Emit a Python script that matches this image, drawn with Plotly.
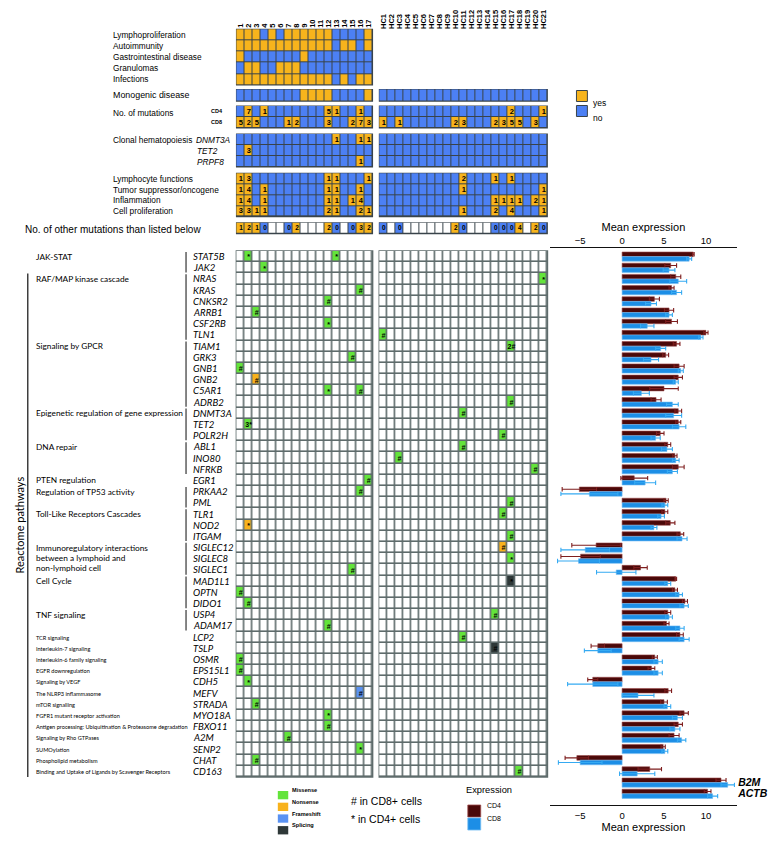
import plotly.graph_objects as go

W, H = 768, 843

# ---------------- data ----------------
patients = [str(i) for i in range(1, 18)]
controls = ["HC%d" % i for i in range(1, 22)]

clinical_labels = ["Lymphoproliferation", "Autoimmunity", "Gastrointestinal disease", "Granulomas", "Infections"]
lymphoproliferation = [1, 1, 1, 0, 1, 0, 1, 1, 1, 1, 1, 1, 0, 0, 0, 0, 1]
autoimmunity = [1, 1, 1, 1, 1, 1, 1, 1, 1, 1, 1, 1, 0, 1, 1, 0, 1]
gastrointestinal = [1, 0, 0, 0, 0, 0, 0, 0, 1, 0, 0, 0, 0, 0, 0, 0, 0]
granulomas = [0, 1, 1, 0, 0, 1, 1, 1, 0, 0, 0, 0, 0, 0, 0, 0, 0]
infections = [1, 1, 1, 1, 1, 1, 1, 1, 1, 1, 1, 1, 0, 1, 0, 1, 1]

monogenic_pat = [0, 0, 0, 0, 0, 0, 0, 0, 1, 1, 1, 1, 0, 0, 0, 0, 1]
monogenic_hc = [0] * 21

mut_cd4_pat = [0, 7, 0, 1, 0, 0, 0, 0, 0, 0, 0, 5, 1, 0, 0, 1, 0]
mut_cd8_pat = [5, 2, 5, 0, 0, 0, 1, 2, 0, 0, 0, 3, 0, 0, 2, 7, 3]
mut_cd4_hc = [0, 0, 0, 0, 0, 0, 0, 0, 0, 0, 0, 0, 0, 0, 0, 0, 2, 0, 0, 0, 1]
mut_cd8_hc = [1, 0, 1, 0, 0, 0, 0, 0, 0, 2, 3, 0, 0, 0, 2, 3, 5, 5, 0, 3, 0]

ch_genes = ["DNMT3A", "TET2", "PRPF8"]
ch_dnmt3a_pat = [0, 0, 0, 0, 0, 0, 0, 0, 0, 0, 0, 0, 1, 0, 0, 1, 1]
ch_tet2_pat = [0, 3, 0, 0, 0, 0, 0, 0, 0, 0, 0, 0, 0, 0, 0, 0, 0]
ch_prpf8_pat = [0, 0, 0, 0, 0, 0, 0, 0, 0, 0, 0, 0, 0, 0, 0, 1, 0]
ch_dnmt3a_hc = [0] * 21
ch_tet2_hc = [0] * 21
ch_prpf8_hc = [0] * 21

function_labels = ["Lymphocyte functions", "Tumor suppressor/oncogene", "Inflammation", "Cell proliferation"]
lymph_fx_pat = [1, 3, 0, 0, 0, 0, 0, 0, 0, 0, 0, 1, 1, 0, 0, 0, 1]
tumor_pat = [1, 4, 0, 1, 0, 0, 0, 0, 0, 0, 0, 1, 1, 0, 0, 1, 0]
inflam_pat = [1, 4, 0, 1, 0, 0, 0, 0, 0, 0, 0, 1, 1, 0, 1, 4, 0]
prolif_pat = [3, 3, 1, 1, 0, 0, 0, 0, 0, 0, 0, 2, 1, 0, 0, 2, 1]
lymph_fx_hc = [0, 0, 0, 0, 0, 0, 0, 0, 0, 0, 2, 0, 0, 0, 1, 0, 1, 0, 0, 0, 0]
tumor_hc = [0, 0, 0, 0, 0, 0, 0, 0, 0, 0, 1, 0, 0, 0, 0, 0, 0, 0, 0, 0, 1]
inflam_hc = [0, 0, 0, 0, 0, 0, 0, 0, 0, 0, 0, 0, 0, 0, 1, 1, 1, 1, 0, 2, 1]
prolif_hc = [0, 0, 0, 0, 0, 0, 0, 0, 0, 0, 1, 0, 0, 0, 2, 0, 4, 0, 0, 0, 1]

other_pat = [1, 2, 1, 0, None, None, 0, 2, None, None, None, 2, 0, None, 0, 3, 2]
other_hc = [0, None, 0, None, None, None, None, None, None, 2, 0, None, None, None, 0, 0, 0, 4, None, 2, 0]

genes = ["STAT5B", "JAK2", "NRAS", "KRAS", "CNKSR2", "ARRB1", "CSF2RB", "TLN1", "TIAM1", "GRK3",
         "GNB1", "GNB2", "C5AR1", "ADRB2", "DNMT3A", "TET2", "POLR2H", "ABL1", "INO80", "NFRKB",
         "EGR1", "PRKAA2", "PML", "TLR1", "NOD2", "ITGAM", "SIGLEC12", "SIGLEC8", "SIGLEC1", "MAD1L1",
         "OPTN", "DIDO1", "USP4", "ADAM17", "LCP2", "TSLP", "OSMR", "EPS15L1", "CDH5", "MEFV",
         "STRADA", "MYO18A", "FBXO11", "A2M", "SENP2", "CHAT", "CD163"]

pathway_names = ["JAK-STAT", "RAF/MAP kinase cascade", "Signaling by GPCR",
                 "Epigenetic regulation of gene expression", "DNA repair", "PTEN regulation",
                 "Regulation of TP53 activity", "Toll-Like Receptors Cascades",
                 "Immunoregulatory interactions<br>between a lymphoid and<br>non-lymphoid cell",
                 "Cell Cycle", "TNF signaling", "TCR signaling", "Interleukin-7 signaling",
                 "Interleukin-6 family signaling", "EGFR downregulation", "Signaling by VEGF",
                 "The NLRP3 inflammasome", "mTOR signalling", "FGFR1 mutant receptor activation",
                 "Antigen processing: Ubiquitination & Proteasome degradation",
                 "Signaling by Rho GTPases", "SUMOylation", "Phospholipid metabolism",
                 "Binding and Uptake of Ligands by Scavenger Receptors"]
pathway_sizes = [2, 6, 6, 3, 3, 1, 2, 3, 3, 3, 2, 1, 1, 1, 1, 1, 1, 1, 1, 1, 1, 1, 1, 1]

mutation_types = ["Missense", "Nonsense", "Frameshift", "Splicing"]
# (gene, cohort, column label, type, mark)
mutations = [
    ("STAT5B", "P", "2", "Missense", "*"), ("STAT5B", "P", "13", "Missense", "*"),
    ("JAK2", "P", "4", "Missense", "*"), ("KRAS", "P", "16", "Missense", "#"),
    ("CNKSR2", "P", "12", "Missense", "#"), ("ARRB1", "P", "3", "Missense", "#"),
    ("CSF2RB", "P", "12", "Missense", "*"), ("GRK3", "P", "15", "Missense", "#"),
    ("GNB1", "P", "1", "Missense", "#"), ("GNB2", "P", "3", "Nonsense", "#"),
    ("C5AR1", "P", "12", "Missense", "*"), ("C5AR1", "P", "16", "Missense", "#"),
    ("TET2", "P", "2", "Missense", "3*"), ("EGR1", "P", "17", "Missense", "#"),
    ("PRKAA2", "P", "16", "Missense", "#"), ("NOD2", "P", "2", "Nonsense", "*"),
    ("SIGLEC1", "P", "15", "Missense", "#"), ("OPTN", "P", "1", "Missense", "#"),
    ("DIDO1", "P", "2", "Missense", "#"), ("ADAM17", "P", "12", "Missense", "#"),
    ("OSMR", "P", "1", "Missense", "#"), ("EPS15L1", "P", "1", "Missense", "#"),
    ("CDH5", "P", "2", "Missense", "*"), ("MEFV", "P", "16", "Frameshift", "#"),
    ("STRADA", "P", "3", "Missense", "#"), ("MYO18A", "P", "12", "Missense", "*"),
    ("FBXO11", "P", "12", "Missense", "#"), ("A2M", "P", "7", "Missense", "#"),
    ("SENP2", "P", "16", "Missense", "*"), ("CHAT", "P", "3", "Missense", "#"),
    ("NRAS", "HC", "HC21", "Missense", "*"), ("TLN1", "HC", "HC1", "Missense", "#"),
    ("TIAM1", "HC", "HC17", "Missense", "2#"), ("ADRB2", "HC", "HC17", "Missense", "#"),
    ("DNMT3A", "HC", "HC11", "Missense", "#"), ("POLR2H", "HC", "HC16", "Missense", "#"),
    ("ABL1", "HC", "HC11", "Missense", "#"), ("INO80", "HC", "HC3", "Missense", "#"),
    ("NFRKB", "HC", "HC20", "Missense", "#"), ("PML", "HC", "HC17", "Missense", "#"),
    ("TLR1", "HC", "HC16", "Missense", "#"), ("ITGAM", "HC", "HC17", "Missense", "#"),
    ("SIGLEC12", "HC", "HC16", "Nonsense", "#"), ("SIGLEC8", "HC", "HC17", "Missense", "*"),
    ("MAD1L1", "HC", "HC17", "Splicing", "*"), ("USP4", "HC", "HC15", "Missense", "#"),
    ("LCP2", "HC", "HC11", "Missense", "#"), ("TSLP", "HC", "HC15", "Splicing", "#"),
    ("CD163", "HC", "HC18", "Missense", "#"),
]

bar_genes = genes + ["B2M", "ACTB"]
cd4_mean = [8.5, 5.8, 6.4, 5.9, 3.85, 5.6, 5.9, 10.0, 6.5, 5.2,
            6.8, 6.7, 5.0, 4.05, 6.7, 6.7, 4.55, 5.45, 6.3, 6.7,
            1.45, -5.1, 5.25, 5.1, 5.75, 6.95, -3.1, -4.95, 2.2, 6.4,
            6.3, 7.5, 5.45, 5.3, 6.9, -2.9, 3.9, 3.5, -3.5, 5.5,
            5.0, 7.4, 6.7, 6.2, 4.9, -5.4, 3.3, 11.8, 10.2]
cd4_err = [0.1, 0.7, 0.6, 0.3, 0.6, 0.55, 0.7, 0.25, 0.4, 0.35,
           0.6, 0.5, 1.7, 0.6, 0.4, 0.3, 0.45, 0.35, 0.25, 0.7,
           1.6, 2.05, 0.25, 0.35, 0.55, 0.4, 2.9, 2.35, 0.8, 0.1,
           0.3, 0.3, 0.35, 0.3, 0.4, 0.8, 0.3, 0.4, 0.6, 0.4,
           0.4, 0.5, 0.5, 0.6, 0.25, 1.4, 1.4, 0.6, 0.4]
cd8_mean = [8.0, 5.6, 6.7, 6.5, 3.45, 5.6, 3.0, 9.4, 4.6, 3.45,
            7.0, 6.4, 2.3, 6.0, 6.15, 6.8, 4.0, 5.35, 6.4, 6.0,
            2.75, -3.9, 5.1, 4.65, 3.8, 7.15, -4.4, -5.2, -0.7, 5.45,
            6.8, 7.4, 5.6, 6.9, 7.4, -2.9, 4.3, 4.3, -3.5, 1.9,
            5.4, 6.6, 6.3, 7.1, 5.1, -5.0, 1.8, 12.6, 10.8]
cd8_err = [0.3, 0.7, 1.0, 0.6, 0.65, 0.4, 0.8, 0.25, 0.6, 0.9,
           0.3, 0.3, 0.95, 0.7, 0.95, 0.8, 0.55, 0.65, 0.4, 0.6,
           1.25, 3.4, 0.35, 0.4, 0.35, 0.6, 2.9, 2.5, 2.35, 0.35,
           0.4, 0.5, 0.4, 0.5, 0.6, 1.6, 0.5, 0.5, 3.0, 1.9,
           0.4, 0.6, 0.6, 0.5, 0.35, 2.6, 2.1, 0.8, 0.6]
bar_ticks = [-5, 0, 5, 10]

# ---------------- style ----------------
YES = "#F7B41C"
NO = "#4C80F4"
WHITE = "#FFFFFF"
TYPE_COLORS = {"Missense": "#63E43B", "Nonsense": "#F8B21C", "Frameshift": "#5A92F2", "Splicing": "#2E3838"}
CD4_COL = "#4A0808"
CD8_COL = "#1C8EE6"
CLIN_BORDER = "#39434A"
MUT_BORDER = "#5E6B6B"
SANS = "Liberation Sans"
CAL = "Lato"

fig = go.Figure()
layout = {}
shapes = []
annotations = []
n_axes = [0]


def xp(p):
    return p / W


def yp(p):
    return 1 - p / H


def add_axes(x0, x1, y0, y1, xr, yr):
    n_axes[0] += 1
    k = n_axes[0]
    s = "" if k == 1 else str(k)
    layout["xaxis" + s] = dict(domain=[xp(x0), xp(x1)], range=xr, visible=False, fixedrange=True,
                               anchor="y" + s, showgrid=False, zeroline=False)
    layout["yaxis" + s] = dict(domain=[yp(y1), yp(y0)], range=yr, visible=False, fixedrange=True,
                               anchor="x" + s, showgrid=False, zeroline=False)
    return "x" + s, "y" + s, s


def add_grid(z, text, x0, x1, y0, y1, colorscale, zmax, gap, border, fsize=7.5):
    nr, nc = len(z), len(z[0])
    cw = (x1 - x0) / nc
    rh = (y1 - y0) / nr
    pxx, pyy = gap / 2 / cw, gap / 2 / rh
    xa, ya, s = add_axes(x0 - gap / 2, x1 + gap / 2, y0 - gap / 2, y1 + gap / 2,
                         [-0.5 - pxx, nc - 0.5 + pxx], [nr - 0.5 + pyy, -0.5 - pyy])
    shapes.append(dict(type="rect", xref=xa + " domain", yref=ya + " domain", x0=0, x1=1, y0=0, y1=1,
                       fillcolor=border, line=dict(width=0), layer="below"))
    fig.add_trace(go.Heatmap(z=z, x=list(range(nc)), y=list(range(nr)), text=text, texttemplate="%{text}",
                             textfont=dict(size=fsize, color="black", family=SANS, weight="bold"),
                             colorscale=colorscale, zmin=0, zmax=zmax, showscale=False,
                             xgap=gap, ygap=gap, hoverinfo="skip", xaxis=xa, yaxis=ya))
    return xa, ya, s


YN_SCALE = [[0, NO], [0.5, YES], [1, WHITE]]


def count_rows(rows):
    z = [[1 if v else 0 for v in r] for r in rows]
    t = [[str(v) if v else "" for v in r] for r in rows]
    return z, t


def other_row(r):
    z = [[2 if v is None else (1 if v > 0 else 0) for v in r]]
    t = [["" if v is None else str(v) for v in r]]
    return z, t


PX0, PX1 = 238.3, 375.5
HX0, HX1 = 382.3, 551.7
blocks = {"A": (29.3, 85.0), "B": (89.5, 101.2), "C": (106.0, 128.0), "D": (134.0, 167.0),
          "E": (173.3, 216.7), "F": (222.7, 233.7), "G": (251.0, 777.0)}

# clinical (patients only)
zA = [lymphoproliferation, autoimmunity, gastrointestinal, granulomas, infections]
tA = [[""] * 17 for _ in zA]
xA, yA, sA = add_grid(zA, tA, PX0, PX1, *blocks["A"], YN_SCALE, 2, 1.0, CLIN_BORDER)
layout["xaxis" + sA].update(visible=True, side="top", tickmode="array", tickvals=list(range(17)),
                            ticktext=patients, tickangle=-90, ticks="", showline=False,
                            tickfont=dict(size=7.5, family=SANS, weight="bold", color="black"))
for i, lab in enumerate(clinical_labels):
    annotations.append(dict(text=lab, xref="paper", x=xp(111.5), xanchor="left", yref=yA, y=i,
                            showarrow=False, font=dict(size=8.3, family=SANS, color="black")))

# monogenic
zB, tB = count_rows([monogenic_pat])
tB = [[""] * 17]
xB, yB, sB = add_grid(zB, tB, PX0, PX1, *blocks["B"], YN_SCALE, 2, 1.0, CLIN_BORDER)
zBh, _ = count_rows([monogenic_hc])
xBh, yBh, sBh = add_grid(zBh, [[""] * 21], HX0, HX1, *blocks["B"], YN_SCALE, 2, 1.0, CLIN_BORDER)
layout["xaxis" + sBh].update(visible=True, side="top", anchor="free", position=yp(29.0),
                             tickmode="array", tickvals=list(range(21)), ticktext=controls,
                             tickangle=-90, ticks="", showline=False,
                             tickfont=dict(size=7.5, family=SANS, weight="bold", color="black"))
annotations.append(dict(text="Monogenic disease", xref="paper", x=xp(111.5), xanchor="left", yref=yB, y=0,
                        showarrow=False, font=dict(size=8.9, family=SANS, color="black")))

# number of mutations
zC, tC = count_rows([mut_cd4_pat, mut_cd8_pat])
xC, yC, sC = add_grid(zC, tC, PX0, PX1, *blocks["C"], YN_SCALE, 2, 1.0, CLIN_BORDER)
zCh, tCh = count_rows([mut_cd4_hc, mut_cd8_hc])
add_grid(zCh, tCh, HX0, HX1, *blocks["C"], YN_SCALE, 2, 1.0, CLIN_BORDER)
annotations.append(dict(text="No. of mutations", xref="paper", x=xp(111.5), xanchor="left", yref=yC, y=0.1,
                        showarrow=False, font=dict(size=8.3, family=SANS, color="black")))
for i, lab in enumerate(["CD4", "CD8"]):
    annotations.append(dict(text=lab, xref="paper", x=xp(211), xanchor="left", yref=yC, y=i,
                            showarrow=False, font=dict(size=5.5, family=SANS, color="black", weight="bold")))

# clonal hematopoiesis
zD, tD = count_rows([ch_dnmt3a_pat, ch_tet2_pat, ch_prpf8_pat])
xD, yD, sD = add_grid(zD, tD, PX0, PX1, *blocks["D"], YN_SCALE, 2, 1.0, CLIN_BORDER)
zDh, tDh = count_rows([ch_dnmt3a_hc, ch_tet2_hc, ch_prpf8_hc])
add_grid(zDh, tDh, HX0, HX1, *blocks["D"], YN_SCALE, 2, 1.0, CLIN_BORDER)
annotations.append(dict(text="Clonal hematopoiesis", xref="paper", x=xp(111.5), xanchor="left", yref=yD, y=0,
                        showarrow=False, font=dict(size=8.3, family=SANS, color="black")))
for i, g in enumerate(ch_genes):
    annotations.append(dict(text=g, xref="paper", x=xp(195.5 if i == 0 else 196.5), xanchor="left", yref=yD, y=i,
                            showarrow=False, font=dict(size=8.3, family=SANS, color="black", style="italic")))

# functional categories
zE, tE = count_rows([lymph_fx_pat, tumor_pat, inflam_pat, prolif_pat])
xE, yE, sE = add_grid(zE, tE, PX0, PX1, *blocks["E"], YN_SCALE, 2, 1.0, CLIN_BORDER)
zEh, tEh = count_rows([lymph_fx_hc, tumor_hc, inflam_hc, prolif_hc])
add_grid(zEh, tEh, HX0, HX1, *blocks["E"], YN_SCALE, 2, 1.0, CLIN_BORDER)
for i, lab in enumerate(function_labels):
    annotations.append(dict(text=lab, xref="paper", x=xp(111.5), xanchor="left", yref=yE, y=i,
                            showarrow=False, font=dict(size=8.3, family=SANS, color="black")))

# other mutations
zF, tF = other_row(other_pat)
xF, yF, sF = add_grid(zF, tF, PX0, PX1, *blocks["F"], YN_SCALE, 2, 1.0, CLIN_BORDER, fsize=6.5)
zFh, tFh = other_row(other_hc)
add_grid(zFh, tFh, HX0, HX1, *blocks["F"], YN_SCALE, 2, 1.0, CLIN_BORDER, fsize=6.5)
annotations.append(dict(text="No. of other mutations than listed below", xref="paper", x=xp(205),
                        xanchor="right", yref=yF, y=0.1, showarrow=False,
                        font=dict(size=10, family=SANS, color="black")))

# mutation grids
type_code = {t: i + 1 for i, t in enumerate(mutation_types)}
MUT_SCALE = [[0, WHITE], [0.25, TYPE_COLORS["Missense"]], [0.5, TYPE_COLORS["Nonsense"]],
             [0.75, TYPE_COLORS["Frameshift"]], [1, TYPE_COLORS["Splicing"]]]


def mut_matrix(cohort, cols):
    z = [[0] * len(cols) for _ in genes]
    t = [[""] * len(cols) for _ in genes]
    for g, c, col, typ, mark in mutations:
        if c == cohort:
            r, k = genes.index(g), cols.index(col)
            z[r][k] = type_code[typ]
            t[r][k] = mark
    return z, t


zG, tG = mut_matrix("P", patients)
xG, yG, sG = add_grid(zG, tG, PX0, PX1, *blocks["G"], MUT_SCALE, 4, 1.6, MUT_BORDER, fsize=7)
zGh, tGh = mut_matrix("HC", controls)
add_grid(zGh, tGh, HX0, HX1, *blocks["G"], MUT_SCALE, 4, 1.6, MUT_BORDER, fsize=7)

for i, g in enumerate(genes):
    annotations.append(dict(text=g, xref="paper", x=xp(192.0), xanchor="left", yref=yG, y=i,
                            showarrow=False, font=dict(size=9.6, family=CAL, color="black", style="italic")))

start = 0
for k, (name, size) in enumerate(zip(pathway_names, pathway_sizes)):
    small = k >= 11
    lines = name.split("<br>")
    for j, ln in enumerate(lines):
        annotations.append(dict(text=ln, xref="paper", x=xp(34), xanchor="left", yref=yG, y=start + j * 0.9,
                                showarrow=False,
                                font=dict(size=5.6 if small else 8.3, family=CAL, color="black")))
    if size > 1:
        shapes.append(dict(type="line", xref="paper", yref=yG, x0=xp(187.5), x1=xp(187.5),
                           y0=start - 0.42, y1=start + size - 1 + 0.42,
                           line=dict(color="#444444", width=1.3)))
    start += size

shapes.append(dict(type="line", xref="paper", yref=yG, x0=xp(28), x1=xp(28), y0=2 - 0.5, y1=len(genes) - 0.5,
                   line=dict(color="#222222", width=1.3)))
annotations.append(dict(text="Reactome pathways", xref="paper", x=xp(11), yref=yG, y=(len(genes) - 1) / 2 + 1,
                        textangle=-90, showarrow=False, font=dict(size=11, family=CAL, color="black")))

# ---------------- bar chart ----------------
ROW = (blocks["G"][1] - blocks["G"][0]) / len(genes)
rows = list(range(len(bar_genes)))
BY0, BY1 = 248.0, 804.5
yr = [len(bar_genes) - 0.5 + (BY1 - (blocks["G"][0] + len(bar_genes) * ROW)) / ROW,
      -0.5 - (blocks["G"][0] - BY0) / ROW]
xR, yR, sR = add_axes(554, 743, BY0, BY1, [-8.64, 13.73], yr)
axis_style = dict(visible=True, showline=True, linecolor="#111111", linewidth=1.3, ticks="",
                  tickvals=bar_ticks, showgrid=False, zeroline=False,
                  tickfont=dict(size=9.5, family=SANS, color="black"))
layout["xaxis" + sR].update(side="top", ticklabelstandoff=-1,
                            title=dict(text="Mean expression", standoff=1,
                                       font=dict(size=11, family=SANS, color="black")),
                            **axis_style)
layout["yaxis" + sR].update(visible=True, side="right", showline=False, ticks="", tickmode="array",
                            tickvals=rows[-2:], ticktext=bar_genes[-2:],
                            tickfont=dict(size=10.5, family=SANS, color="black", style="italic", weight="bold"))
kb = n_axes[0] + 1
layout["xaxis%d" % kb] = dict(domain=[xp(554), xp(743)], range=[-8.64, 13.73], overlaying=xR, anchor=yR,
                              side="bottom", fixedrange=True, ticklabelstandoff=2,
                              title=dict(text="Mean expression", standoff=0,
                                         font=dict(size=11, family=SANS, color="black")),
                              **axis_style)
fig.add_trace(go.Scatter(x=[None], y=[None], xaxis="x%d" % kb, yaxis=yR, showlegend=False, hoverinfo="skip"))

fig.add_trace(go.Bar(y=rows, x=cd4_mean, orientation="h", name="CD4", xaxis=xR, yaxis=yR,
                     marker=dict(color=CD4_COL, line=dict(color="#9C4A4A", width=0.6)),
                     error_x=dict(type="data", array=cd4_err, color="#7E1E1E", thickness=1.1, width=2.2),
                     showlegend=False, hoverinfo="skip"))
fig.add_trace(go.Bar(y=rows, x=cd8_mean, orientation="h", name="CD8", xaxis=xR, yaxis=yR,
                     marker=dict(color=CD8_COL, line=dict(color="#72BCF2", width=0.6)),
                     error_x=dict(type="data", array=cd8_err, color="#35AAF2", thickness=1.1, width=2.2),
                     showlegend=False, hoverinfo="skip"))

# ---------------- legends ----------------
yn_labels = ["yes", "no"]
for i, (lab, col) in enumerate(zip(yn_labels, [YES, NO])):
    y0 = 90.5 + i * 15
    shapes.append(dict(type="rect", xref="paper", yref="paper", x0=xp(581), x1=xp(592), y0=yp(y0 + 11), y1=yp(y0),
                       fillcolor=col, line=dict(color=CLIN_BORDER, width=1)))
    annotations.append(dict(text=lab, xref="paper", yref="paper", x=xp(596), y=yp(y0 + 5.5), xanchor="left",
                            showarrow=False, font=dict(size=8.5, family=SANS, color="black")))

for i, t in enumerate(mutation_types):
    y0 = 791 + i * 11.7
    shapes.append(dict(type="rect", xref="paper", yref="paper", x0=xp(280), x1=xp(290.5), y0=yp(y0 + 8.3), y1=yp(y0),
                       fillcolor=TYPE_COLORS[t], line=dict(width=0)))
    annotations.append(dict(text=t, xref="paper", yref="paper", x=xp(292), y=yp(y0 + 4.2), xanchor="left",
                            showarrow=False, font=dict(size=5.6, family=SANS, color="black", weight="bold")))

annotations.append(dict(text="# in CD8+ cells", xref="paper", yref="paper", x=xp(351.5), y=yp(808.5),
                        xanchor="left", showarrow=False, font=dict(size=10.5, family=SANS, color="black")))
annotations.append(dict(text="* in CD4+ cells", xref="paper", yref="paper", x=xp(351.5), y=yp(826.5),
                        xanchor="left", showarrow=False, font=dict(size=10.5, family=SANS, color="black")))

annotations.append(dict(text="Expression", xref="paper", yref="paper", x=xp(467.5), y=yp(797),
                        xanchor="left", showarrow=False, font=dict(size=9.3, family=SANS, color="black")))
for i, (lab, col, lc) in enumerate(zip(["CD4", "CD8"], [CD4_COL, CD8_COL], ["#9C4A4A", "#72BCF2"])):
    y0 = 805 + i * 13
    shapes.append(dict(type="rect", xref="paper", yref="paper", x0=xp(471.5), x1=xp(484.5), y0=yp(y0 + 12), y1=yp(y0),
                       fillcolor=col, line=dict(color=lc, width=0.8)))
    annotations.append(dict(text=lab, xref="paper", yref="paper", x=xp(488.5), y=yp(y0 + 6), xanchor="left",
                            showarrow=False, font=dict(size=7, family=SANS, color="black")))

fig.update_layout(width=W, height=H, margin=dict(l=0, r=0, t=0, b=0), paper_bgcolor="white",
                  plot_bgcolor="rgba(0,0,0,0)", barmode="group", bargap=0.18, bargroupgap=0,
                  font=dict(family=SANS, color="black"), showlegend=False,
                  shapes=shapes, annotations=annotations, **layout)
fig.write_html("out.html", config={"displayModeBar": False},
               post_script="document.body.style.margin='0px';")
